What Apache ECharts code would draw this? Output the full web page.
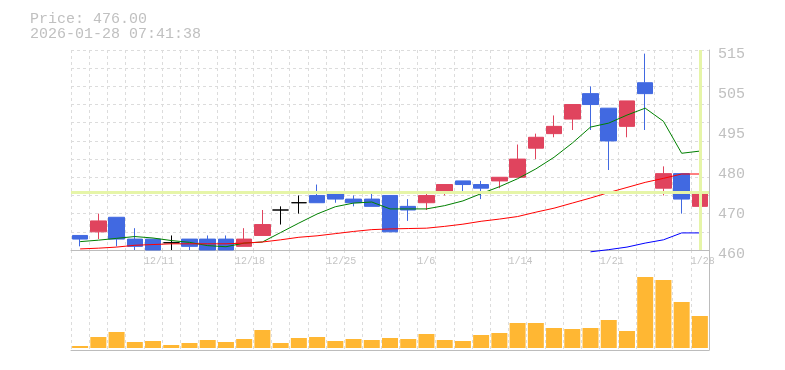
<!DOCTYPE html>
<html>
<head>
<meta charset="utf-8">
<script src="https://cdn.jsdelivr.net/npm/echarts@6/dist/echarts.min.js"></script>
<style>html,body{margin:0;padding:0;background:#fff}#c{width:785px;height:370px}</style>
</head>
<body>
<div id="c"></div>
<script>
const titleLines = ['Price: 476.00', '2026-01-28 07:41:38'];
const lastPrice = 476;

const dates = ['12/5','12/8','12/9','12/10','12/11','12/12','12/15','12/16','12/17','12/18',
  '12/19','12/22','12/23','12/24','12/25','12/26','12/29','12/30','1/5','1/6',
  '1/7','1/8','1/9','1/13','1/14','1/15','1/16','1/19','1/20','1/21',
  '1/22','1/23','1/26','1/27','1/28'];

const opens  = [464,465,469,463,463,462,463,463,463,461,464,471,473,475,476,474,474,475,472,473,476,479,478,479,480,488,492,496,503,499,494,506,477,481,472];
const closes = [463,468,463,461,460,462,461,460,460,463,467,471,473,473,474,473,472,465,471,475,478,478,477,480,485,491,494,500,500,490,501,503,481,474,476];
const lows   = [461,463,461,460,460,460,460,460,460,461,464,467,470,473,473,472,472,465,468,471,475,476,474,477,480,485,491,493,493,482,491,493,475,470,468];
const highs  = [464,470,469,466,463,464,463,464,464,466,471,472,475,478,476,475,476,475,474,476,478,479,479,480,489,492,497,500,505,499,501,514,483,481,477];

const ma5  = [462.3,462.7,463.2,463.7,463.3,462.6,462.1,461.2,460.9,461.9,462.2,464.8,467.4,469.9,471.9,472.9,473.2,471.3,471.3,471.3,472.2,473.5,475.5,477.4,479.6,482.3,485.5,489.4,493.8,494.9,497.1,499.0,495.4,486.6,487.2];
const ma25 = [460.3,460.5,460.8,461.3,461.5,461.7,461.7,461.7,461.7,461.9,462.2,462.8,463.5,463.9,464.5,465.1,465.6,465.8,465.9,466.0,466.5,467.1,467.9,468.5,469.2,470.4,471.5,472.9,474.3,475.8,477.2,478.6,479.7,480.9,480.9];
const ma75 = [null,null,null,null,null,null,null,null,null,null,null,null,null,null,null,null,null,null,null,null,null,null,null,null,null,null,null,null,459.5,460.1,460.8,461.9,462.8,464.7,464.7];

const volumes = [2,11,16,6,7,3,5,8,6,9,18,5,10,11,7,9,8,10,9,14,8,7,13,15,25,25,20,19,20,28,17,71,68,46,32];

const priceTickValues = [460,471,482,493,504,515];
const priceTickLabels = ['460','470','480','495','505','515'];
const dateTickLabels = ['12/11','12/18','12/25','1/6','1/14','1/21','1/28'];

const candleData = dates.map((d, i) => [opens[i], closes[i], lows[i], highs[i]]);
const dateTickPos = dateTickLabels.map(l => dates.indexOf(l) - 0.5);

const chart = echarts.init(document.getElementById('c'), null, {renderer: 'canvas'});
const gridDash = {color: '#dcdcdc', type: [3, 3], width: 1};
const axisCol = '#bcbcbc';
const mono = 'Liberation Mono';

chart.setOption({
  animation: false,
  backgroundColor: '#fff',
  title: {
    text: titleLines.join('\n'),
    left: 30, top: 12, padding: 0,
    textStyle: {fontFamily: mono, fontSize: 15, fontWeight: 'normal', color: '#c0c0c0', lineHeight: 15}
  },
  grid: [
    {left: 71, right: 76, top: 50, height: 200},
    {left: 71, right: 76, top: 250, height: 100}
  ],
  xAxis: [
    {type: 'category', gridIndex: 0, data: dates, boundaryGap: true,
     axisLine: {show: true, onZero: false, lineStyle: {color: axisCol}}, axisTick: {show: false},
     axisLabel: {show: false}, splitLine: {show: true, interval: 0, lineStyle: gridDash}},
    {type: 'value', gridIndex: 0, position: 'bottom', min: -0.5, max: dates.length - 0.5,
     axisLine: {show: false, onZero: false}, axisTick: {show: false}, splitLine: {show: false},
     axisLabel: {customValues: dateTickPos, align: 'left', margin: 6,
       fontFamily: mono, fontSize: 10, color: '#c4c4c4',
       formatter: v => { const i = dateTickPos.findIndex(p => Math.abs(p - v) < 1e-6); return i >= 0 ? dateTickLabels[i] : ''; }}},
    {type: 'category', gridIndex: 1, data: dates, boundaryGap: true,
     axisLine: {show: true, onZero: false, lineStyle: {color: axisCol}}, axisTick: {show: false},
     axisLabel: {show: false}, splitLine: {show: true, interval: 0, lineStyle: gridDash}}
  ],
  yAxis: [
    {type: 'value', gridIndex: 0, position: 'right', min: 460, max: 515, interval: 5,
     axisLine: {show: true, onZero: false, lineStyle: {color: axisCol}}, axisTick: {show: false},
     splitLine: {show: true, lineStyle: gridDash},
     axisLabel: {customValues: priceTickValues, margin: 9, fontFamily: mono, fontSize: 15, color: '#c0c0c0',
       verticalAlign: 'top', lineHeight: 8,
       formatter: v => { const i = priceTickValues.findIndex(t => Math.abs(t - v) < 1e-6); return i >= 0 ? priceTickLabels[i] : ''; }}},
    {type: 'value', gridIndex: 1, position: 'right', min: -2, max: 98,
     axisLine: {show: true, onZero: false, lineStyle: {color: axisCol}}, axisTick: {show: false},
     splitLine: {show: false}, axisLabel: {show: false}}
  ],
  series: [
    {type: 'line', xAxisIndex: 0, yAxisIndex: 0, data: dates.map(() => null), z: 1, silent: true,
     markLine: {silent: true, symbol: ['none', 'none'], label: {show: false}, animation: false,
       lineStyle: {color: '#e6f5a8', width: 3, type: 'solid'},
       data: [{yAxis: lastPrice}, {xAxis: dates[dates.length - 1]}]}},
    {type: 'candlestick', xAxisIndex: 0, yAxisIndex: 0, data: candleData, barWidth: 16, z: 3,
     itemStyle: {color: '#e0445e', color0: '#4169e1', borderColor: '#e0445e', borderColor0: '#4169e1',
       borderColorDoji: '#000000', borderWidth: 1}},
    {type: 'line', xAxisIndex: 0, yAxisIndex: 0, data: ma5, symbol: 'none', z: 4,
     lineStyle: {color: '#008000', width: 1}},
    {type: 'line', xAxisIndex: 0, yAxisIndex: 0, data: ma25, symbol: 'none', z: 4,
     lineStyle: {color: '#ff0000', width: 1}},
    {type: 'line', xAxisIndex: 0, yAxisIndex: 0, data: ma75, symbol: 'none', z: 4, clip: false,
     lineStyle: {color: '#0000ff', width: 1}},
    {type: 'bar', xAxisIndex: 2, yAxisIndex: 1, data: volumes, barWidth: 16,
     itemStyle: {color: '#ffb733'}}
  ]
});
</script>
</body>
</html>
